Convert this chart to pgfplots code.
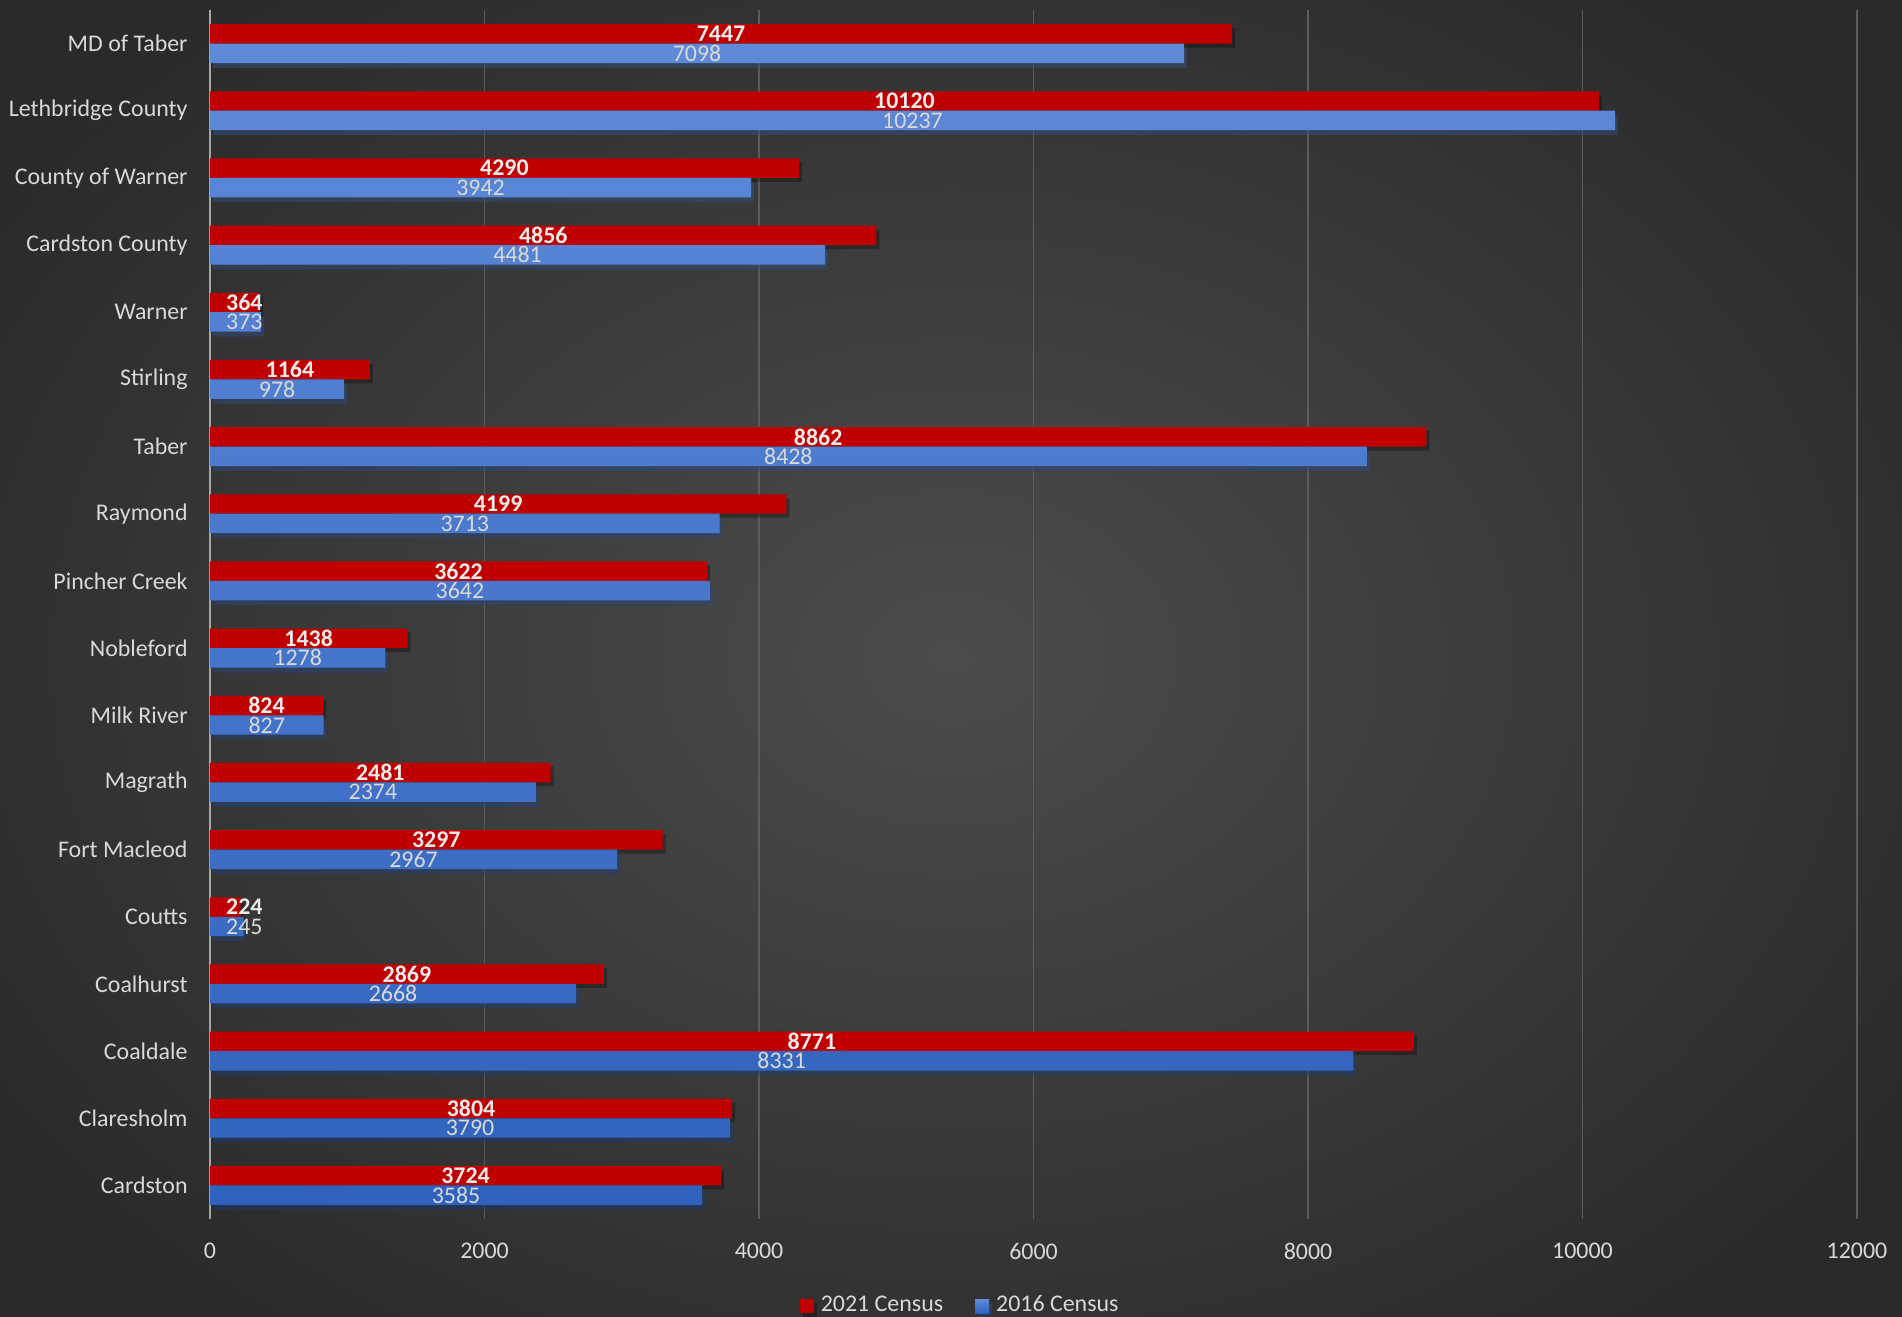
\documentclass[border=0pt]{standalone}
\usepackage{pgfplots}
\pgfplotsset{compat=1.18}
\usepackage{pgfplotstable}
\usepackage{fontspec}
\setmainfont{Carlito}

\definecolor{bgin}{HTML}{4C4C4C}
\definecolor{bgout}{HTML}{2A2A2A}
\definecolor{redbar}{HTML}{C00000}
\definecolor{bluetop}{HTML}{5E8AD8}
\definecolor{bluebot}{HTML}{2F62BE}
\definecolor{txt}{HTML}{D9D9D9}
\definecolor{gridc}{HTML}{5C5C5C}

% y = 0 bottom (Cardston) ... 17 top (MD of Taber)
\pgfplotstableread{
y  v21   v16
0  3724  3585
1  3804  3790
2  8771  8331
3  2869  2668
4  224   245
5  3297  2967
6  2481  2374
7  824   827
8  1438  1278
9  3622  3642
10 4199  3713
11 8862  8428
12 1164  978
13 364   373
14 4856  4481
15 4290  3942
16 10120 10237
17 7447  7098
}\census

\newcommand\lbl{\fontsize{6.8}{8}\selectfont}

\begin{document}
\begin{tikzpicture}[font=\lbl]
\useasboundingbox (0,0) rectangle (19.02,13.16);
\shade[inner color=bgin, outer color=bgout] (-2,-2) rectangle (21.02,15.16);
\begin{axis}[
    at={(2.10cm,0.97cm)}, anchor=south west,
    scale only axis, width=16.47cm, height=12.09cm,
    xmin=0, xmax=12000, ymin=-0.5, ymax=17.5,
    xtick={0,2000,...,12000},
    scaled x ticks=false,
    /pgf/number format/1000 sep={},
    /pgf/number format/assume math mode=true,
    ytick={0,...,17},
    yticklabels={Cardston, Claresholm, Coaldale, Coalhurst, Coutts, Fort Macleod, Magrath, Milk River, Nobleford, Pincher Creek, Raymond, Taber, Stirling, Warner, Cardston County, County of Warner, Lethbridge County, MD of Taber},
    axis lines*=left,
    x axis line style={draw=none},
    y axis line style={draw=black!35!white, line width=0.8pt},
    major tick length=0pt,
    xmajorgrids, grid style={gridc, line width=0.55pt},
    ticklabel style={text=txt, font=\lbl},
    xticklabel style={yshift=-0.12cm},
    yticklabel style={xshift=-0.1cm},
    legend style={draw=none, fill=none, text=txt, font=\lbl, at={(0.457,-0.072)}, anchor=center,
        legend columns=2, /tikz/every even column/.append style={column sep=0.25cm}},
    legend image code/.code={\fill[#1] (0cm,-0.07cm) rectangle (0.14cm,0.07cm);},
]
\addplot[xbar, bar width=0.29, bar shift=0.145, draw=none, fill=redbar,
    preaction={fill=black, opacity=0.3, transform canvas={xshift=0.03cm, yshift=-0.04cm}}]
    table[x=v21, y=y] {\census};
\addlegendentry{2021 Census}
\addplot[xbar, bar width=0.29, bar shift=-0.145, draw=none, top color=bluetop, bottom color=bluebot,
    preaction={fill=black, opacity=0.3, transform canvas={xshift=0.03cm, yshift=-0.05cm}}]
    table[x=v16, y=y] {\census};
\addlegendentry{2016 Census}

\addplot[draw=none, mark=none, forget plot, point meta=explicit,
    nodes near coords={\pgfmathprintnumber[fixed,precision=0,1000 sep={}]{\pgfplotspointmeta}},
    every node near coord/.style={anchor=center, inner sep=0pt, font=\lbl\bfseries, text=white!92!black}]
    table[x expr={max(\thisrow{v21}/2,250)}, y expr=\thisrow{y}+0.145, meta=v21] {\census};
\addplot[draw=none, mark=none, forget plot, point meta=explicit,
    nodes near coords={\pgfmathprintnumber[fixed,precision=0,1000 sep={}]{\pgfplotspointmeta}},
    every node near coord/.style={anchor=center, inner sep=0pt, font=\lbl, text=white!85!black}]
    table[x expr={max(\thisrow{v16}/2,250)}, y expr=\thisrow{y}-0.145, meta=v16] {\census};
\end{axis}
\end{tikzpicture}
\end{document}
